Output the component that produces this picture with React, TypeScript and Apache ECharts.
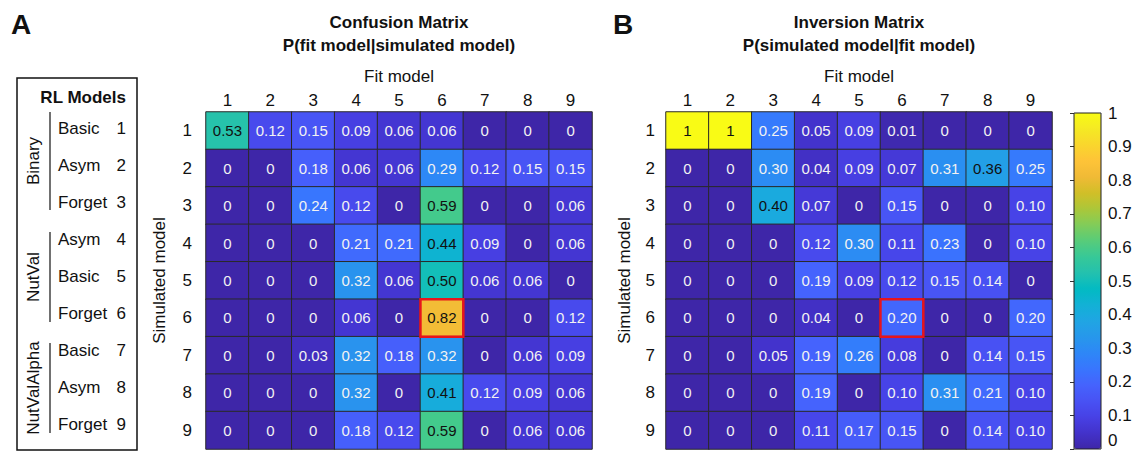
import React, { useEffect, useRef } from "react";
import * as echarts from "echarts";

const modelIds = ["1", "2", "3", "4", "5", "6", "7", "8", "9"];
const modelNames = ["Basic", "Asym", "Forget", "Asym", "Basic", "Forget", "Basic", "Asym", "Forget"];
const modelGroups = ["Binary", "NutVal", "NutValAlpha"];

// rows = simulated model 1..9, columns = fit model 1..9
const confusion = [
  [0.53, 0.12, 0.15, 0.09, 0.06, 0.06, 0, 0, 0],
  [0, 0, 0.18, 0.06, 0.06, 0.29, 0.12, 0.15, 0.15],
  [0, 0, 0.24, 0.12, 0, 0.59, 0, 0, 0.06],
  [0, 0, 0, 0.21, 0.21, 0.44, 0.09, 0, 0.06],
  [0, 0, 0, 0.32, 0.06, 0.5, 0.06, 0.06, 0],
  [0, 0, 0, 0.06, 0, 0.82, 0, 0, 0.12],
  [0, 0, 0.03, 0.32, 0.18, 0.32, 0, 0.06, 0.09],
  [0, 0, 0, 0.32, 0, 0.41, 0.12, 0.09, 0.06],
  [0, 0, 0, 0.18, 0.12, 0.59, 0, 0.06, 0.06],
];

const inversion = [
  [1, 1, 0.25, 0.05, 0.09, 0.01, 0, 0, 0],
  [0, 0, 0.3, 0.04, 0.09, 0.07, 0.31, 0.36, 0.25],
  [0, 0, 0.4, 0.07, 0, 0.15, 0, 0, 0.1],
  [0, 0, 0, 0.12, 0.3, 0.11, 0.23, 0, 0.1],
  [0, 0, 0, 0.19, 0.09, 0.12, 0.15, 0.14, 0],
  [0, 0, 0, 0.04, 0, 0.2, 0, 0, 0.2],
  [0, 0, 0.05, 0.19, 0.26, 0.08, 0, 0.14, 0.15],
  [0, 0, 0, 0.19, 0, 0.1, 0.31, 0.21, 0.1],
  [0, 0, 0, 0.11, 0.17, 0.15, 0, 0.14, 0.1],
];

// highlighted cell: [fit index, simulated index]
const highlightCell = [[5, 5]];

const parula = [
  "#3e26a8", "#4332cb", "#4741e5", "#4852f4", "#4563fd", "#3875fe", "#2e87f7", "#2797eb",
  "#20a5e3", "#12b1d6", "#02bac3", "#24c1ae", "#37c897", "#57cc7a", "#81cc59", "#abc739",
  "#d1bf27", "#f0ba36", "#fec338", "#fad62d", "#f5e924", "#f9fb15",
];

const FF = '"Liberation Sans", Arial, Helvetica, sans-serif';

function fmt(v: number) {
  if (v === 0) return "0";
  if (v === 1) return "1";
  return v.toFixed(2);
}

function cells(m: number[][]) {
  const out: any[] = [];
  m.forEach((row, r) =>
    row.forEach((v, c) => {
      out.push({ value: [c, r, v], label: { color: v > 0.35 ? "#111111" : "#f2f2f2" } });
    })
  );
  return out;
}

function heat(idx: number, m: number[][]) {
  return {
    type: "heatmap",
    xAxisIndex: idx,
    yAxisIndex: idx,
    data: cells(m),
    itemStyle: { borderColor: "#2a2a2a", borderWidth: 1 },
    label: {
      show: true,
      fontSize: 15,
      fontFamily: FF,
      formatter: (p: any) => fmt(p.value[2]),
    },
    emphasis: { disabled: true },
  };
}

function highlight(idx: number) {
  return {
    type: "custom",
    xAxisIndex: idx,
    yAxisIndex: idx,
    data: highlightCell,
    z: 10,
    renderItem: (_p: any, api: any) => {
      const c = api.coord([api.value(0), api.value(1)]);
      const s = api.size([1, 1]);
      return {
        type: "rect",
        shape: { x: c[0] - s[0] / 2, y: c[1] - s[1] / 2, width: s[0], height: s[1] },
        style: { fill: "none", stroke: "#e8141c", lineWidth: 2.5 },
      };
    },
  };
}

const gridL = { left: 206, top: 112, width: 386, height: 337 };
const gridR = { left: 666, top: 112, width: 386, height: 337 };
const cbar = { left: 1074, top: 113, width: 27, height: 336 };

function xCat(idx: number) {
  return {
    type: "category",
    gridIndex: idx,
    data: modelIds,
    position: "top",
    axisLine: { show: false },
    axisTick: { show: false },
    axisLabel: { fontSize: 17, color: "#111", fontFamily: FF, margin: 3 },
    name: "Fit model",
    nameLocation: "middle",
    nameGap: 27,
    nameTextStyle: { fontSize: 17, color: "#111", fontFamily: FF },
    splitLine: { show: false },
  };
}

function yCat(idx: number, margin: number, gap: number) {
  return {
    type: "category",
    gridIndex: idx,
    data: modelIds,
    inverse: true,
    axisLine: { show: false },
    axisTick: { show: false },
    axisLabel: { fontSize: 17, color: "#111", fontFamily: FF, margin },
    name: "Simulated model",
    nameLocation: "middle",
    nameRotate: 90,
    nameGap: gap,
    nameTextStyle: { fontSize: 17, color: "#111", fontFamily: FF },
    splitLine: { show: false },
  };
}

function txt(x: number, y: number, text: string, opts: any = {}) {
  return {
    type: "text",
    x,
    y,
    rotation: opts.rotation || 0,
    z: 100,
    style: {
      text,
      fill: "#111",
      fontSize: opts.size || 17,
      fontWeight: opts.bold ? "bold" : "normal",
      fontFamily: FF,
      align: opts.align || "center",
      verticalAlign: "middle",
    },
  };
}

export default function App() {
  const ref = useRef<HTMLDivElement>(null);
  useEffect(() => {
    if (!ref.current) return;
    const chart = echarts.init(ref.current, null, { renderer: "svg" });

    const graphics: any[] = [
      txt(21, 24, "A", { bold: true, size: 28 }),
      txt(623, 24, "B", { bold: true, size: 28 }),
      txt(gridL.left + gridL.width / 2, 22, "Confusion Matrix", { bold: true }),
      txt(gridL.left + gridL.width / 2, 45, "P(fit model|simulated model)", { bold: true }),
      txt(gridR.left + gridR.width / 2, 22, "Inversion Matrix", { bold: true }),
      txt(gridR.left + gridR.width / 2, 45, "P(simulated model|fit model)", { bold: true }),
      {
        type: "rect",
        shape: { x: 17, y: 78, width: 120, height: 372 },
        style: { fill: "none", stroke: "#111", lineWidth: 1.5 },
        z: 100,
      },
      txt(126, 97, "RL Models", { bold: true, align: "right" }),
      {
        type: "rect",
        shape: { x: cbar.left, y: cbar.top, width: cbar.width, height: cbar.height },
        style: { fill: "none", stroke: "#222", lineWidth: 1 },
        z: 100,
      },
    ];
    modelNames.forEach((n, i) => {
      const y = 128 + 37.1 * i;
      graphics.push(txt(58, y, n, { align: "left" }));
      graphics.push(txt(126, y, modelIds[i], { align: "right" }));
    });
    const groupSpans = [
      [112, 210],
      [232, 322],
      [343, 433],
    ];
    modelGroups.forEach((g, i) => {
      const [a, b] = groupSpans[i];
      graphics.push({
        type: "line",
        shape: { x1: 50, y1: a, x2: 50, y2: b },
        style: { stroke: "#111", lineWidth: 1.2 },
        z: 100,
      });
      graphics.push(txt(33, (a + b) / 2, g, { rotation: Math.PI / 2 }));
    });

    chart.setOption({
      animation: false,
      backgroundColor: "#ffffff",
      textStyle: { fontFamily: FF },
      grid: [
        { ...gridL, outerBoundsMode: "none" },
        { ...gridR, outerBoundsMode: "none" },
        { ...cbar, outerBoundsMode: "none" },
      ],
      xAxis: [
        xCat(0),
        xCat(1),
        { type: "value", gridIndex: 2, show: false, min: 0, max: 1 },
      ],
      yAxis: [
        yCat(0, 14, 38),
        yCat(1, 11, 33),
        {
          type: "value",
          gridIndex: 2,
          min: 0,
          max: 1,
          interval: 0.1,
          position: "right",
          axisLine: { show: false },
          axisTick: { show: true, inside: true, length: 4, lineStyle: { color: "#333" } },
          axisLabel: {
            fontSize: 17,
            color: "#111",
            fontFamily: FF,
            margin: 7,
            verticalAlignMinLabel: "bottom",
          },
          splitLine: { show: false },
        },
      ],
      visualMap: {
        type: "continuous",
        min: 0,
        max: 1,
        seriesIndex: [0, 2],
        calculable: false,
        hoverLink: false,
        show: true,
        orient: "vertical",
        left: cbar.left,
        top: cbar.top,
        itemWidth: cbar.width,
        itemHeight: cbar.height,
        padding: 0,
        inRange: { color: parula },
      },
      series: [heat(0, confusion), highlight(0), heat(1, inversion), highlight(1)],
      graphic: graphics,
    });
    return () => chart.dispose();
  }, []);
  return (
    <div
      ref={ref}
      style={{ position: "absolute", left: 0, top: 0, width: 1138, height: 452 }}
    />
  );
}
